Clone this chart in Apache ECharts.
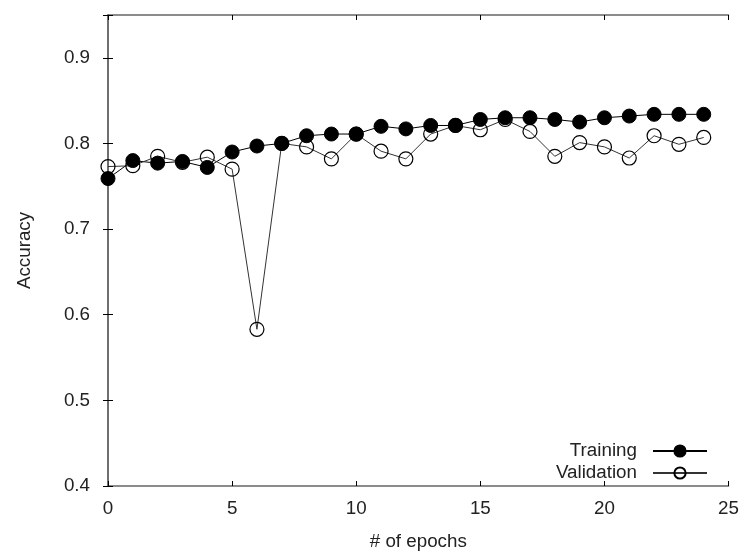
<!DOCTYPE html>
<html><head><meta charset="utf-8">
<script src="https://cdn.jsdelivr.net/npm/echarts@6/dist/echarts.min.js"></script>
<style>html,body{margin:0;padding:0;background:#fff}#c{width:742px;height:556px}</style>
</head><body><div id="c"></div>
<script>
var epochs = [0,1,2,3,4,5,6,7,8,9,10,11,12,13,14,15,16,17,18,19,20,21,22,23,24];
var training = [0.759,0.780,0.777,0.779,0.772,0.790,0.797,0.800,0.809,0.811,0.811,0.820,0.817,0.821,0.821,0.828,0.830,0.830,0.828,0.825,0.830,0.832,0.834,0.834,0.834];
var validation = [0.773,0.774,0.785,0.778,0.784,0.770,0.583,0.800,0.796,0.782,0.811,0.791,0.782,0.811,0.821,0.816,0.828,0.814,0.785,0.801,0.796,0.783,0.809,0.799,0.807];
var yTicks = [0.4,0.5,0.6,0.7,0.8,0.9];
var xTicks = [0,5,10,15,20,25];

var FONT = 'Liberation Sans';
var FS = 18.8;
var chart = echarts.init(document.getElementById('c'), null, {renderer:'canvas'});
function pairs(v){ return epochs.map(function(e,i){ return [e, v[i]]; }); }
var frameLine = {show:true, lineStyle:{color:'#666', width:1.5}};
var tick = {show:true, inside:true, length:5, lineStyle:{color:'#000', width:1}};
chart.setOption({
  animation:false,
  backgroundColor:'#fff',
  grid:{left:108, top:15, right:12, bottom:68, containLabel:false},
  xAxis:[{
    type:'value', min:0, max:25, interval:5,
    name:'# of epochs', nameLocation:'middle', nameGap:46,
    nameTextStyle:{fontFamily:FONT, fontSize:FS, color:'#222'},
    axisLine:frameLine, axisTick:tick, splitLine:{show:false},
    axisLabel:{fontFamily:FONT, fontSize:FS, color:'#222', margin:13}
  },{
    type:'value', position:'top', min:0, max:25, interval:5,
    axisLine:frameLine, axisTick:tick, splitLine:{show:false}, axisLabel:{show:false}
  }],
  yAxis:[{
    type:'value', min:0.4, max:0.95, interval:0.1,
    name:'Accuracy', nameLocation:'middle', nameGap:74, nameRotate:90,
    nameTextStyle:{fontFamily:FONT, fontSize:FS, color:'#222'},
    axisLine:frameLine, axisTick:tick, splitLine:{show:false},
    axisLabel:{fontFamily:FONT, fontSize:FS, color:'#222', margin:18,
      formatter:function(v){ return yTicks.some(function(t){return Math.abs(t-v)<1e-9;}) ? v.toFixed(1) : ''; }}
  },{
    type:'value', position:'right', min:0.4, max:0.95, interval:0.1,
    axisLine:frameLine, axisTick:tick, splitLine:{show:false}, axisLabel:{show:false}
  }],
  legend:{
    orient:'vertical', align:'right', right:34, bottom:72, itemGap:0, padding:0,
    itemWidth:54, itemHeight:14,
    textStyle:{fontFamily:FONT, fontSize:FS, color:'#222', lineHeight:22, padding:[0,11,0,0]},
    data:['Training','Validation']
  },
  series:[{
    name:'Training', type:'line', data:pairs(training),
    symbol:'circle', symbolSize:14,
    lineStyle:{color:'#000', width:1},
    itemStyle:{color:'#000', borderColor:'#000', borderWidth:1}
  },{
    name:'Validation', type:'line', data:pairs(validation),
    symbol:'circle', symbolSize:14,
    lineStyle:{color:'#333', width:1},
    itemStyle:{color:'rgba(255,255,255,0)', borderColor:'#000', borderWidth:1.2}
  }]
});
</script></body></html>
